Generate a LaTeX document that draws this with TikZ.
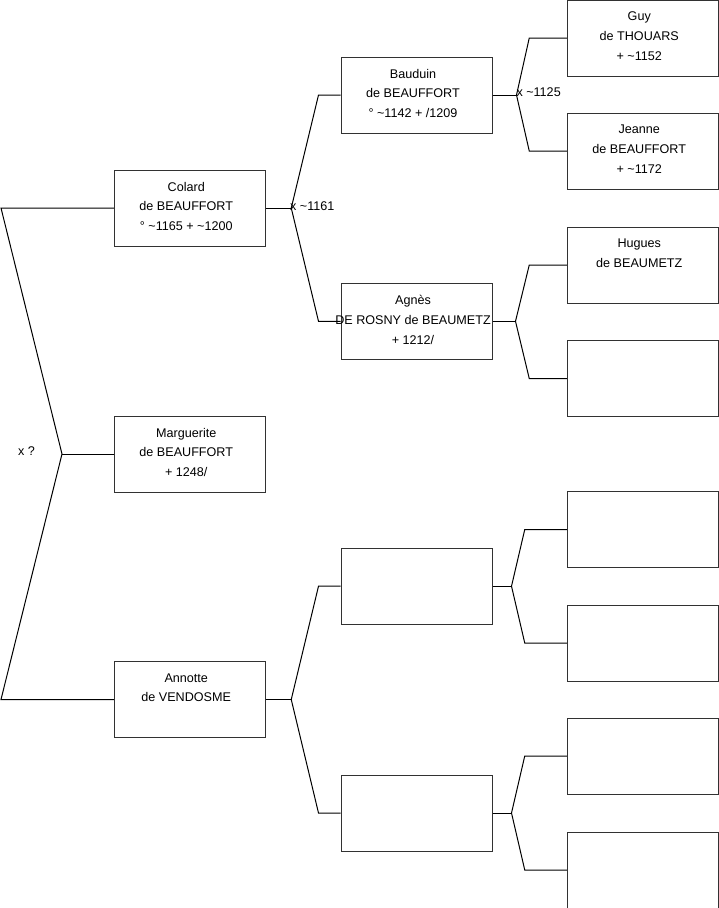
\documentclass[tikz,border=0pt]{standalone}
\usepackage{fontspec}
\setmainfont{Liberation Sans}
\usetikzlibrary{calc}
\definecolor{boxcolor}{RGB}{50,50,50}

\begin{document}
\begin{tikzpicture}[
  x=1pt, y=-1pt,
  person/.style={draw=boxcolor, line width=1pt, minimum width=151pt, minimum height=76pt, inner sep=0pt},
  names/.style={font=\fontsize{12.6}{19.7}\selectfont, align=center, inner sep=0pt, anchor=north,
    xshift=-3.5pt, execute at begin node=\strut},
  wed/.style={font=\fontsize{12.6}{15}\selectfont, inner sep=0pt, anchor=base west},
  link/.style={line width=1pt},
]
\useasboundingbox (0,0) rectangle (719,908);

% ---------- boxes: children, parents, grandparents ----------
\node[person] (colard)     at (189.75,208)   {};
\node[person] (marguerite) at (189.75,454)   {};
\node[person] (annotte)    at (189.75,699.5) {};

\node[person] (bauduin) at (416.5,95)    {};
\node[person] (agnes)   at (416.5,321.3) {};
\node[person] (anF)     at (416.5,586.2) {};
\node[person] (anM)     at (416.5,813)   {};

\node[person] (guy)    at (642.75,38)    {};
\node[person] (jeanne) at (642.75,151)   {};
\node[person] (hugues) at (642.75,265)   {};
\node[person] (agM)    at (642.75,378.5) {};
\node[person] (anFF)   at (642.75,529.5) {};
\node[person] (anFM)   at (642.75,643)   {};
\node[person] (anMF)   at (642.75,756)   {};
\node[person] (anMM)   at (642.75,870)   {};

% ---------- names ----------
\node[names] (colard-t)     at ($(colard.north)+(0,12.4)$)     {Colard\\de BEAUFFORT\\° \textasciitilde1165 + \textasciitilde1200};
\node[names] (marguerite-t) at ($(marguerite.north)+(0,12.4)$) {Marguerite\\de BEAUFFORT\\+ 1248/};
\node[names] (annotte-t)    at ($(annotte.north)+(0,12.4)$)    {Annotte\\de VENDOSME};
\node[names] (bauduin-t)    at ($(bauduin.north)+(0,12.4)$)    {Bauduin\\de BEAUFFORT\\° \textasciitilde1142 + /1209};
\node[names] (agnes-t)      at ($(agnes.north)+(0,12.4)$)      {Agnès\\DE ROSNY de BEAUMETZ\\+ 1212/};
\node[names] (guy-t)        at ($(guy.north)+(0,12.4)$)        {Guy\\de THOUARS\\+ \textasciitilde1152};
\node[names] (jeanne-t)     at ($(jeanne.north)+(0,12.4)$)     {Jeanne\\de BEAUFFORT\\+ \textasciitilde1172};
\node[names] (hugues-t)     at ($(hugues.north)+(0,12.4)$)     {Hugues\\de BEAUMETZ};

% ---------- forks ----------
\coordinate (v-root) at (62,454);
\draw[link] (colard.west) -- (1,208) -- (v-root) -- (1,699.5) -- (annotte.west);
\draw[link] (v-root) -- (marguerite.west);
\node[wed] (wed-root) at (18,455) {x ?};

\foreach \p/\a/\b/\dv/\db in {colard/bauduin/agnes/25.5/22, annotte/anF/anM/25.5/22,
    bauduin/guy/jeanne/24/37.5, agnes/hugues/agM/23/37.5,
    anF/anFF/anFM/19/42, anM/anMF/anMM/19/42} {
  \coordinate (v-\p) at ($(\p.east)+(\dv,0)$);
  \draw[link] (\p.east) -- (v-\p);
  \draw[link] (\a.west) -- ++(-\db,0) -- (v-\p) -- ($(\b.west)+(-\db,0)$) -- (\b.west);
}

\node[wed] (wed-colard)  at (290,210.7)  {x \textasciitilde1161};
\node[wed] (wed-bauduin) at (516.3,96.7) {x \textasciitilde1125};

\end{tikzpicture}
\end{document}
